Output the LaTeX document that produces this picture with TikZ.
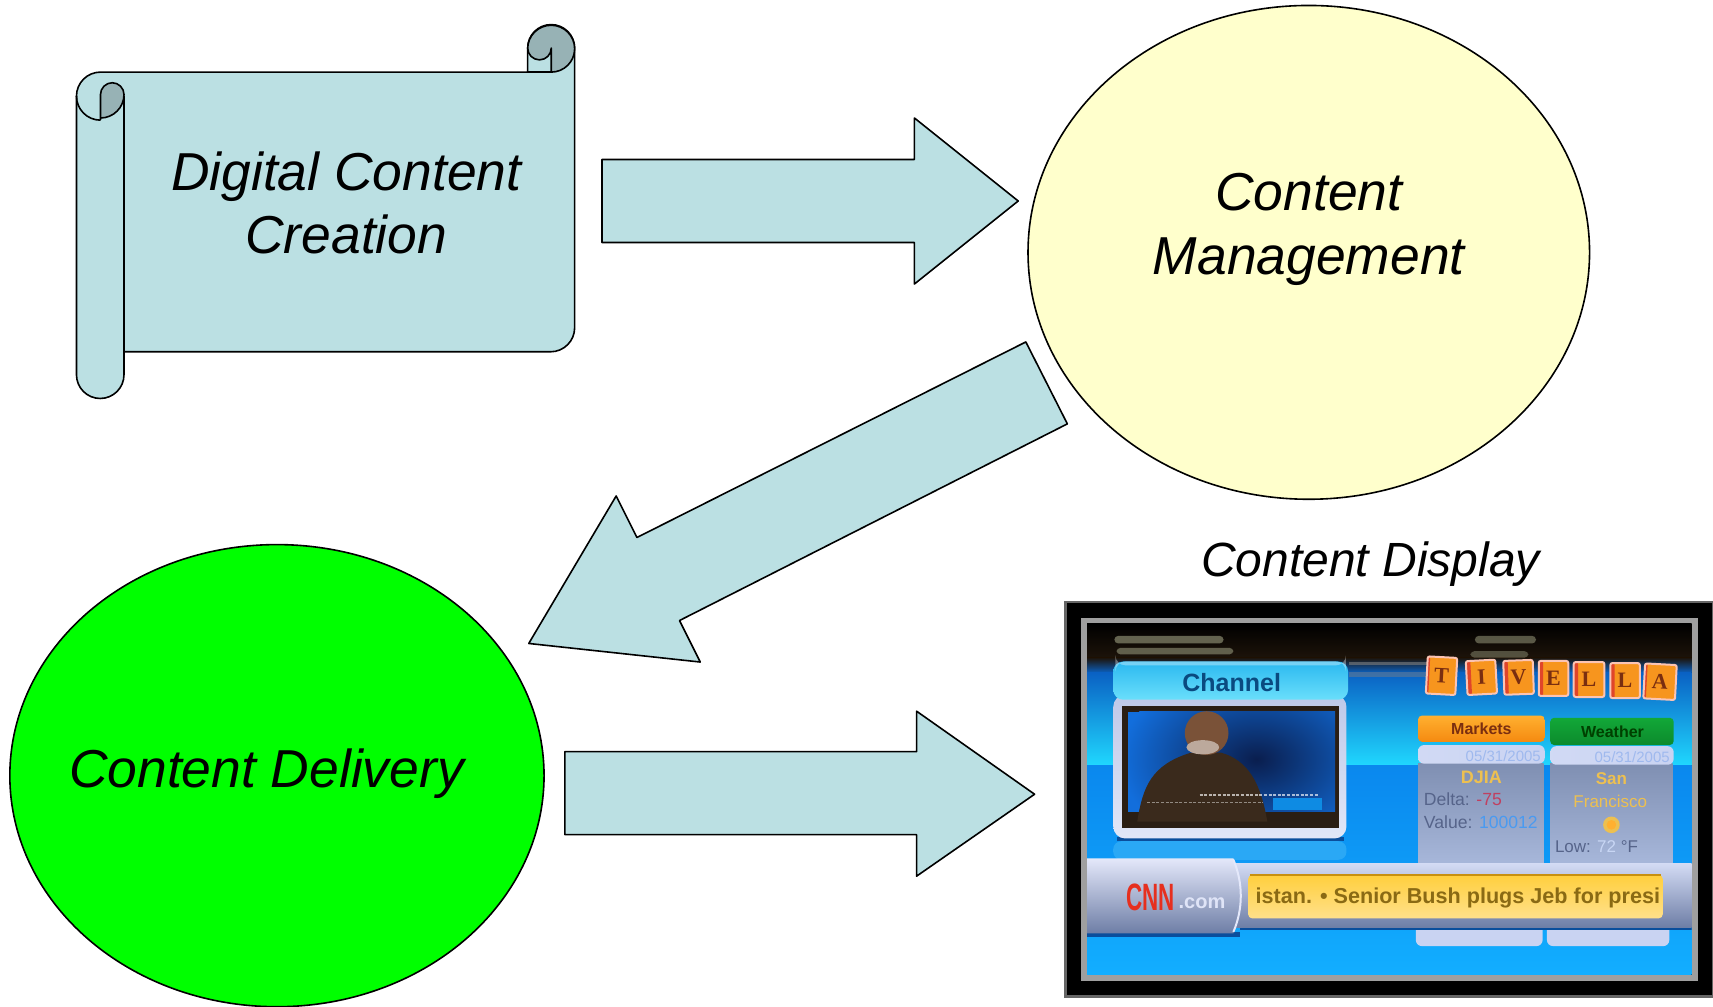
\documentclass[tikz,border=0pt]{standalone}
\usepackage{fontspec}
\setmainfont{Liberation Sans}
\newfontfamily\tileserif{Liberation Serif}
\usetikzlibrary{shapes.geometric}
\definecolor{pale}{HTML}{BBE0E3}
\definecolor{palefold}{HTML}{97B2B5}
\definecolor{cream}{HTML}{FFFFCC}
\definecolor{lime}{HTML}{00FF00}
\definecolor{lav}{HTML}{C9D3F2}
\definecolor{slateb}{HTML}{7F8FB2}
\definecolor{slatec}{HTML}{A9B9DC}
\definecolor{tilered}{HTML}{E0452A}
\definecolor{tileor}{HTML}{F7951E}
\definecolor{tileedge}{HTML}{FBC4B4}
\definecolor{tileink}{HTML}{7A2E10}
\definecolor{tickert}{HTML}{8A6A14}
\definecolor{chanink}{HTML}{0A4A80}
\definecolor{chtop}{HTML}{2BB8F0}
\definecolor{chbot}{HTML}{6ADFFB}
\definecolor{skya}{HTML}{0A62C4}
\definecolor{skyb}{HTML}{20D8FF}
\definecolor{skyc}{HTML}{0A88EE}
\definecolor{skyd}{HTML}{12AEFF}
\definecolor{vidblue}{HTML}{126EDC}
\definecolor{vidnavy}{HTML}{0A1E4E}
\definecolor{shirt}{HTML}{3A2A1C}
\definecolor{face}{HTML}{7A5238}
\definecolor{bandd}{HTML}{2A1E14}
\definecolor{ltan}{HTML}{7A7A62}
\definecolor{orgt}{HTML}{FFB030}
\definecolor{orgb}{HTML}{F58A10}
\definecolor{grnt}{HTML}{12A838}
\definecolor{grnb}{HTML}{0C8A2C}
\definecolor{softor}{HTML}{EDC050}
\definecolor{softink}{HTML}{56648A}
\definecolor{softdate}{HTML}{9FB9EE}
\definecolor{softred}{HTML}{C04060}
\definecolor{softblue}{HTML}{4A9AF0}
\definecolor{softwhite}{HTML}{C8D6F4}
\definecolor{tickera}{HTML}{FFCF3E}
\definecolor{tickerb}{HTML}{FFE08A}
\definecolor{tickerl}{HTML}{C89010}
\definecolor{cnnred}{HTML}{E62F1E}
\definecolor{barlight}{HTML}{E4E8FA}
\definecolor{bardark}{HTML}{6E7EA6}
\definecolor{shadow}{HTML}{0A4E9C}
\definecolor{reflect}{HTML}{2AA8F5}
\newcommand{\fs}[1]{\fontsize{#1}{#1}\selectfont}
\tikzset{
  outline/.style={draw=black,line width=0.8pt,line join=round},
  blockarrow/.style={outline,fill=pale},
  bigtext/.style={font=\fontsize{26.7}{31.7}\selectfont\itshape,align=center,text=black,inner sep=0pt},
  tile/.style={draw=tileedge,line width=1pt,fill=tileor,rounded corners=1pt,
     minimum width=14pt,minimum height=18.5pt,inner sep=0pt,font=\fs{11}\tileserif\bfseries,text=tileink,
     path picture={\fill[tilered] (path picture bounding box.south west) rectangle ([xshift=2.2pt]path picture bounding box.north west);}},
  lbl/.style={inner sep=0pt,anchor=base west},
}
\begin{document}
\begin{tikzpicture}[x=0.54625pt,y=-0.54625pt]
\useasboundingbox (0,0) rectangle (1568,920.9);

% ---- scroll
\draw[outline,fill=pale]
  (113.5,322) -- (504,322) arc[start angle=-90,end angle=0,radius=22*0.54625pt] -- (526,44)
  arc[start angle=0,end angle=180,radius=21.5*0.54625pt] -- (483,66) -- (92,66)
  arc[start angle=90,end angle=180,radius=22*0.54625pt] -- (70,343)
  arc[start angle=180,end angle=360,radius=21.75*0.54625pt] -- (113.5,88) -- cycle;
\draw[outline] (483,66) -- (504.6,66);
\draw[outline,fill=palefold]
  (483,44) arc[start angle=180,end angle=360,radius=10.8*0.54625pt] -- (504.6,66)
  arc[start angle=-90,end angle=0,radius=21.4*0.54625pt]
  arc[start angle=0,end angle=180,radius=21.5*0.54625pt] -- cycle;
\draw[outline,fill=palefold]
  (92,109.5) -- (92,86.5) arc[start angle=180,end angle=0,radius=10.75*0.54625pt]
  arc[start angle=0,end angle=-90,radius=21.5*0.54625pt] -- cycle;
\draw[outline] (70,88) arc[start angle=180,end angle=270,radius=22*0.54625pt];
\node[bigtext] (creation) at (317,186) {Digital Content\\Creation};

% ---- ellipses
\node[outline,fill=cream,ellipse,inner sep=0pt,minimum width=514*0.54625pt,minimum height=452*0.54625pt] (mgmtshape) at (1198,231) {};
\node[bigtext] (mgmt) at (1198,210) {Content\\Management};
\node[outline,fill=lime,ellipse,inner sep=0pt,minimum width=489*0.54625pt,minimum height=423*0.54625pt] (deliveryshape) at (253.5,710) {};
\node[bigtext] (delivery) at (244,708) {Content Delivery};
\node[bigtext,font=\fontsize{24}{28}\selectfont\itshape] (display) at (1254.5,516) {Content Display};

% ---- block arrows
\draw[blockarrow] (551,146) -- (837,146) -- (837,108) -- (932,184) -- (837,260) -- (837,222) -- (551,222) -- cycle;
\draw[blockarrow] (939,313) -- (977,388) -- (622,568) -- (641,606) -- (484,589) -- (564,454) -- (583,492) -- cycle;
\draw[blockarrow] (517,688) -- (839,688) -- (839,651) -- (947,727) -- (839,802) -- (839,764) -- (517,764) -- cycle;

% ---- screen photo
\fill[black,draw=gray!80!black,line width=1.3pt] (975.5,551) rectangle (1568,912);
\fill[black,draw=gray!75,line width=3pt] (992,568) rectangle (1551.5,895.5);
\begin{scope}
\clip (995,571) rectangle (1548.5,892);
\shade[top color=black,bottom color=black!85!brown] (995,571) rectangle (1549,602);
\shade[top color=black!85!brown,bottom color=skya] (995,602) rectangle (1549,616);
\shade[top color=skya,bottom color=skyb] (995,616) rectangle (1549,701);
\shade[top color=skyc,bottom color=skyd] (995,701) rectangle (1549,892);
% ceiling lights
\fill[ltan,opacity=.8,rounded corners=2pt] (1020,582) rectangle (1120,589);
\fill[ltan,opacity=.75,rounded corners=2pt] (1022,593) rectangle (1129,599);
\fill[ltan,opacity=.7,rounded corners=2pt] (1350,582) rectangle (1406,589);
\fill[ltan,opacity=.6,rounded corners=2pt] (1346,596) rectangle (1399,602);
\fill[gray,opacity=.6] (1235,606) rectangle (1308,609);
\fill[gray,opacity=.45] (1235,615) rectangle (1308,620);

% channel panel
\fill[reflect,rounded corners=4pt] (1019,770) rectangle (1232.5,787);
\fill[shadow] (1022,766) rectangle (1230,769.5);
\shade[rounded corners=6pt,top color=lav!85!slateb,bottom color=lav!55!white] (1019,636) rectangle (1232.5,767.5);
\shade[rounded corners=5pt,top color=chtop,bottom color=chbot] (1019,605.5) rectangle (1234,640.5);
\fill[white,opacity=.35,rounded corners=5pt] (1021,605.5) rectangle (1232,609);
\node[inner sep=0pt,font=\fs{12.5}\bfseries,text=chanink] (channel) at (1127.4,624.8) {Channel};
\fill[bandd] (1026.7,646) rectangle (1226,758);
\fill[vidblue] (1032.8,651.4) rectangle (1222,743);
\begin{scope}
\clip (1032.8,651.4) rectangle (1222,743);
\shade[inner color=vidnavy,outer color=vidblue] (1150,695) ellipse[x radius=125*0.54625pt,y radius=85*0.54625pt];
\end{scope}
\fill[bandd] (1032.8,743) rectangle (1222,752);
% person
\fill[shirt] (1041,752) .. controls (1046,720) and (1054,700) .. (1090,689) -- (1118,689)
   .. controls (1142,696) and (1154,716) .. (1160,752) -- cycle;
\fill[face] (1104.5,671) ellipse[x radius=20*0.54625pt,y radius=20*0.54625pt];
\fill[white!50!face] (1101,684) ellipse[x radius=15*0.54625pt,y radius=6.5*0.54625pt];
\draw[white,opacity=.65,line width=.8pt,dash pattern=on 1.5pt off .8pt] (1098,727.7) -- (1206,727.7);
\draw[white,opacity=.45,line width=.8pt,dash pattern=on 1.5pt off .8pt] (1050,734.4) -- (1156,734.4);
\fill[vidblue!80!cyan] (1165.5,730.7) rectangle (1209.7,741.4);

% tiles
\node[tile,minimum width=27*0.54625pt,minimum height=34*0.54625pt,rotate=-3] (t1) at (1319.5,618.5) {T};
\node[tile,minimum width=27*0.54625pt,minimum height=31*0.54625pt,rotate=3] (t2) at (1356,620) {I};
\node[tile,minimum width=27*0.54625pt,minimum height=31*0.54625pt,rotate=2] (t3) at (1390,620) {V};
\node[tile,minimum width=27*0.54625pt,minimum height=32*0.54625pt] (t4) at (1422,621) {E};
\node[tile,minimum width=28*0.54625pt,minimum height=32*0.54625pt] (t5) at (1454.5,622) {L};
\node[tile,minimum width=27*0.54625pt,minimum height=32*0.54625pt] (t6) at (1487.5,623) {L};
\node[tile,minimum width=29*0.54625pt,minimum height=32*0.54625pt,rotate=-3] (t7) at (1519.5,624) {A};

% markets / weather
\shade[top color=slateb,bottom color=slatec] (1298,699) rectangle (1413,795);
\shade[top color=slateb,bottom color=slatec] (1419,699) rectangle (1531,795);
\shade[left color=lav!85!white,right color=lav,rounded corners=3pt] (1298,682) rectangle (1414,699);
\shade[left color=lav!85!white,right color=lav,rounded corners=3pt] (1419,683) rectangle (1532,700);
\shade[rounded corners=2pt,top color=orgt,bottom color=orgb] (1298,655) rectangle (1414,679);
\shade[rounded corners=2pt,top color=grnt,bottom color=grnb] (1419,657) rectangle (1532,682);
\node[inner sep=0pt,font=\fs{8}\bfseries,text=tileink] (markets) at (1356,667.5) {Markets};
\node[inner sep=0pt,font=\fs{8}\bfseries,text=green!25!black] (weather) at (1476,670) {Weather};
\node[inner sep=0pt,font=\fs{7.5},text=softdate] (date1) at (1376,692) {05/31/2005};
\node[inner sep=0pt,font=\fs{7.5},text=softdate] (date2) at (1494,693) {05/31/2005};
\node[inner sep=0pt,font=\fs{9}\bfseries,text=softor] (djia) at (1356,712) {DJIA};
\node[lbl,font=\fs{8.8},text=softink] (delta) at (1303,737.4) {Delta: \textcolor{softred}{-75}};
\node[lbl,font=\fs{8.8},text=softink] (value) at (1303,758.8) {Value: \textcolor{softblue}{100012}};
\node[inner sep=0pt,font=\fs{8.5}\bfseries,text=softor] (sanf) at (1475,713) {San};
\node[inner sep=0pt,font=\fs{8.5},text=softor] (franc) at (1474,734) {Francisco};
\fill[softor] (1475,755) circle[radius=7.6*0.54625pt];
\fill[orgt] (1475,755) circle[radius=4.4*0.54625pt];
\node[lbl,font=\fs{8.5},text=softink] (low) at (1423,780) {Low: \textcolor{softwhite}{72} °F};

% stubs
\fill[lav,rounded corners=3pt] (1296,846) rectangle (1412,866);
\fill[lav,rounded corners=3pt] (1416,846) rectangle (1528,866);

% news bar
\fill[shadow] (995,853) rectangle (1135,857.5);
\fill[shadow] (1135,848) rectangle (1549,851.5);
\shade[top color=lav!80!white,bottom color=bardark] (1125,790) rectangle (1549,849);
\shade[top color=barlight,bottom color=bardark] (990,785.7) -- (1129,785.7) .. controls (1138,808) and (1138,832) .. (1129,854.3) -- (990,854.3) -- cycle;
\draw[barlight,line width=1pt] (1129,787) .. controls (1138,808) and (1138,832) .. (1129,853);
\shade[top color=tickera,bottom color=tickerb,rounded corners=2pt] (1142.5,801) rectangle (1522,840.6);
\draw[tickerl,line width=.8pt] (1144,801) -- (1520,801);
\node[inner sep=0pt,font=\fs{10.8}\bfseries,text=tickert,anchor=west] (ticker) at (1149,821.5) {istan. • Senior Bush plugs Jeb for presi};
\node[inner sep=0pt,font=\fs{11.2}\bfseries,text=cnnred] (cnn) at (1053,821.5) {\scalebox{1}[1.7]{CNN}};
\node[inner sep=0pt,font=\fs{10}\bfseries,text=lav!60!white,anchor=west] (com) at (1078.5,827) {.com};
\end{scope}
\end{tikzpicture}
\end{document}
